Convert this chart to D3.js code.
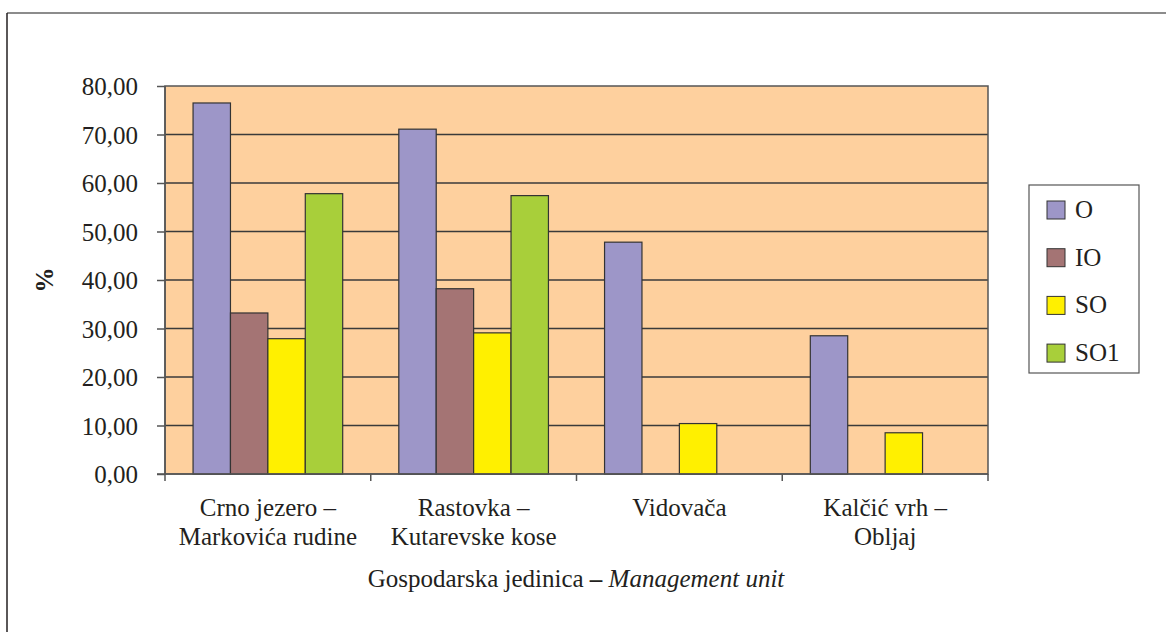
<!DOCTYPE html>
<html>
<head>
<meta charset="utf-8">
<script src="https://cdn.jsdelivr.net/npm/d3@7"></script>
<style>
  body { margin: 0; background: #fff; }
  svg text { font-family: "Liberation Serif", "Tinos", "Times New Roman", "Times", "Nimbus Roman", "Noto Serif", "DejaVu Serif", "FreeSerif", serif; fill: #231f20; }
  .grid line { stroke: #3a3a3a; stroke-width: 1.5; }
  .axis path, .axis line { stroke: #555; stroke-width: 1.5; }
</style>
</head>
<body>
<svg width="1166" height="632"></svg>
<script>
// kategorije (gospodarske jedinice), svaka u dva retka
const categories = ['Crno jezero – Markovića rudine', 'Rastovka – Kutarevske kose', 'Vidovača', 'Kalčić vrh – Obljaj'];
const categoryLines = [
  ['Crno jezero –', 'Markovića rudine'],
  ['Rastovka –', 'Kutarevske kose'],
  ['Vidovača'],
  ['Kalčić vrh –', 'Obljaj']
];
const seriesNames = ['O', 'IO', 'SO', 'SO1'];
const seriesColors = ['#9d96c8', '#a47474', '#fff000', '#a8cf3a'];
const valuesO = [76.5, 71.1, 47.8, 28.5];
const valuesIO = [33.2, 38.2, null, null];
const valuesSO = [27.9, 29.1, 10.4, 8.5];
const valuesSO1 = [57.8, 57.4, null, null];
const yTicks = [0, 10, 20, 30, 40, 50, 60, 70, 80];

const seriesValues = [valuesO, valuesIO, valuesSO, valuesSO1];

const svg = d3.select('svg');

// okvir slike
svg.append('line').attr('x1', 7).attr('y1', 13).attr('x2', 1166).attr('y2', 13)
  .attr('stroke', '#8c8c8c').attr('stroke-width', 2);
svg.append('line').attr('x1', 7).attr('y1', 13).attr('x2', 7).attr('y2', 632)
  .attr('stroke', '#231f20').attr('stroke-width', 1.5);

const plotLeft = 165, plotTop = 86, width = 823, height = 388;

const chart = svg.append('g').attr('transform', `translate(${plotLeft}, ${plotTop})`);

const x0 = d3.scaleBand()
  .domain(categories)
  .range([0, width])
  .padding(0);

const x1 = d3.scaleBand()
  .domain(seriesNames)
  .range([0, x0.bandwidth()])
  .paddingInner(0)
  .paddingOuter(0.75);

const y = d3.scaleLinear()
  .domain([0, 80])
  .range([height, 0]);

chart.append('rect')
  .attr('width', width)
  .attr('height', height)
  .attr('fill', '#fed09e');

// mreža
chart.append('g')
  .attr('class', 'grid')
  .selectAll('line')
  .data(yTicks.filter(d => d > 0 && d < 80))
  .enter()
  .append('line')
  .attr('x1', 0)
  .attr('x2', width)
  .attr('y1', d => y(d))
  .attr('y2', d => y(d));

chart.append('rect')
  .attr('width', width)
  .attr('height', height)
  .attr('fill', 'none')
  .attr('stroke', '#555')
  .attr('stroke-width', 1.5);

// stupci
const rows = [];
categories.forEach((c, ci) => {
  seriesNames.forEach((s, si) => {
    const v = seriesValues[si][ci];
    if (v != null) rows.push({ cat: c, series: s, value: v, color: seriesColors[si] });
  });
});

chart.selectAll('.bar')
  .data(rows)
  .enter()
  .append('rect')
  .attr('class', 'bar')
  .attr('x', d => x0(d.cat) + x1(d.series))
  .attr('y', d => y(d.value))
  .attr('width', x1.bandwidth())
  .attr('height', d => height - y(d.value))
  .attr('fill', d => d.color)
  .attr('stroke', '#333')
  .attr('stroke-width', 1.2);

// y os
const yAxis = chart.append('g')
  .attr('class', 'axis')
  .call(d3.axisLeft(y)
    .tickValues(yTicks)
    .tickSize(8)
    .tickPadding(19)
    .tickFormat(d => d.toFixed(2).replace('.', ',')));
yAxis.attr('font-family', null);
yAxis.select('.domain').attr('d', `M0,0V${height + 7}`);
yAxis.selectAll('text')
  .style('font-size', '25px')
  .attr('fill', '#231f20')
  .attr('dy', '0.35em');

// x os
const xAxis = chart.append('g').attr('class', 'axis');
xAxis.append('line')
  .attr('x1', -8).attr('x2', width)
  .attr('y1', height).attr('y2', height);
xAxis.selectAll('.tick')
  .data(categories.slice(1).concat(['end']))
  .enter()
  .append('line')
  .attr('x1', d => d === 'end' ? width : x0(d))
  .attr('x2', d => d === 'end' ? width : x0(d))
  .attr('y1', height)
  .attr('y2', height + 7);

const labels = xAxis.selectAll('.xlabel')
  .data(categories)
  .enter()
  .append('text')
  .attr('class', 'xlabel')
  .attr('text-anchor', 'middle')
  .attr('x', d => x0(d) + x0.bandwidth() / 2)
  .attr('y', height + 42)
  .style('font-size', '25px');
labels.selectAll('tspan')
  .data((d, i) => categoryLines[i])
  .enter()
  .append('tspan')
  .attr('x', function () { return d3.select(this.parentNode).attr('x'); })
  .attr('dy', (d, i) => i === 0 ? 0 : 29)
  .text(d => d);

// naslovi osi
const xTitle = svg.append('text')
  .attr('x', 576)
  .attr('y', 587)
  .attr('text-anchor', 'middle')
  .style('font-size', '25px');
xTitle.append('tspan').text('Gospodarska jedinica ');
xTitle.append('tspan').style('font-weight', 'bold').text('–');
xTitle.append('tspan').style('font-style', 'italic').text(' Management unit');

svg.append('text')
  .attr('transform', 'translate(53, 280) rotate(-90)')
  .attr('text-anchor', 'middle')
  .style('font-size', '25px')
  .style('font-weight', 'bold')
  .text('%');

// legenda
const legend = svg.append('g');
legend.append('rect')
  .attr('x', 1029).attr('y', 185)
  .attr('width', 110).attr('height', 188)
  .attr('fill', '#fff')
  .attr('stroke', '#555')
  .attr('stroke-width', 1.2);

const items = legend.selectAll('.item')
  .data(seriesNames)
  .enter()
  .append('g')
  .attr('transform', (d, i) => `translate(1047, ${210 + i * 47.7})`);
items.append('rect')
  .attr('x', 0).attr('y', -9)
  .attr('width', 18).attr('height', 18)
  .attr('fill', (d, i) => seriesColors[i])
  .attr('stroke', '#333')
  .attr('stroke-width', 1);
items.append('text')
  .attr('x', 28)
  .attr('y', 8)
  .style('font-size', '25px')
  .text(d => d);
</script>
</body>
</html>
